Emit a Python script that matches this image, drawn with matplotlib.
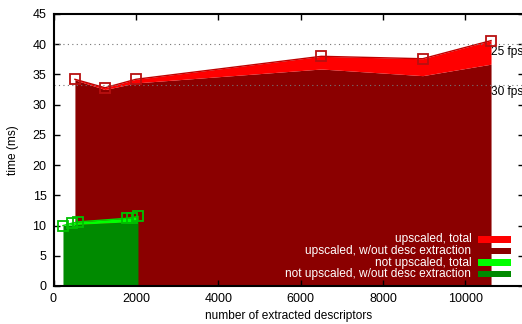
import matplotlib.pyplot as plt
from matplotlib.patches import Rectangle

plt.rcParams['font.family'] = ['Liberation Sans', 'DejaVu Sans']

# descriptor counts and timings (ms)
up_x = [520, 1250, 2000, 6500, 8960, 10620]
up_total = [34.2, 32.8, 34.2, 38.0, 37.6, 40.6]
up_nodesc = [34.1, 32.5, 33.6, 35.9, 34.8, 36.7]

noup_x = [230, 450, 590, 1780, 1900, 2050]
noup_total = [10.0, 10.4, 10.6, 11.2, 11.3, 11.5]
noup_nodesc = [10.0, 10.1, 10.2, 10.6, 10.7, 10.8]

fps_marks = [25, 30]
legend_labels = ['upscaled, total', 'upscaled, w/out desc extraction',
                 'not upscaled, total', 'not upscaled, w/out desc extraction']

RED = '#ff0000'
DARKRED = '#8b0000'
LGREEN = '#00ff00'
DGREEN = '#008a00'

fig = plt.figure(figsize=(5.22, 3.24), dpi=100)
ax = fig.add_axes([53.5 / 522, 38 / 324, 470.5 / 522, 272 / 324])

# upscaled curves
ax.fill_between(up_x, 0, up_nodesc, color=DARKRED, lw=0, zorder=1)
ax.fill_between(up_x, up_nodesc, up_total, color=RED, lw=0, zorder=1)
ax.plot(up_x, up_total, color='#c00000', lw=1, zorder=2)

# not upscaled curves
ax.fill_between(noup_x, 0, noup_nodesc, color=DGREEN, lw=0, zorder=3)
ax.fill_between(noup_x, noup_nodesc, noup_total, color=LGREEN, lw=0, zorder=3)
ax.plot(noup_x, noup_total, color='#00dd00', lw=1, zorder=4)

# frame-rate reference lines
for f in fps_marks:
    ms = 1000.0 / f
    ax.axhline(ms, color='#777777', lw=0.8, ls=(0, (1, 3)), zorder=5)
    ax.text(10610, ms - 0.3, '%d fps' % f, ha='left', va='top', fontsize=8.6, zorder=6)

ax.plot(up_x, up_total, ls='none', marker='s', ms=7, mfc='none', mec='#b81010', mew=1.3, zorder=7, clip_on=False)
ax.plot(noup_x, noup_total, ls='none', marker='s', ms=6.5, mfc='none', mec='#00c000', mew=1.3, zorder=7, clip_on=False)

# key
key_colors = [RED, DARKRED, LGREEN, DGREEN]
key_rows = [0.172, 0.129, 0.085, 0.044]
for lab, col, yy in zip(legend_labels, key_colors, key_rows):
    ax.text(0.888, yy, lab, transform=ax.transAxes, ha='right', va='center',
            color='white', fontsize=8.6, zorder=8)
    ax.add_patch(Rectangle((0.902, yy - 0.0125), 0.070, 0.025, transform=ax.transAxes,
                           facecolor=col, edgecolor='none', zorder=8))

ax.set_xlim(0, 11420)
ax.set_ylim(0, 45)
ax.set_xticks(range(0, 10001, 2000))
ax.set_yticks(range(0, 46, 5))
ax.tick_params(direction='in', length=4, width=1, top=True, right=True, labelsize=9, pad=5)
for s in ax.spines.values():
    s.set_linewidth(1.5)
    s.set_zorder(9)

ax.set_xlabel('number of extracted descriptors', fontsize=8.6, labelpad=4)
ax.set_ylabel('time (ms)', fontsize=8.6, labelpad=10)

fig.savefig('out.png', dpi=100)
